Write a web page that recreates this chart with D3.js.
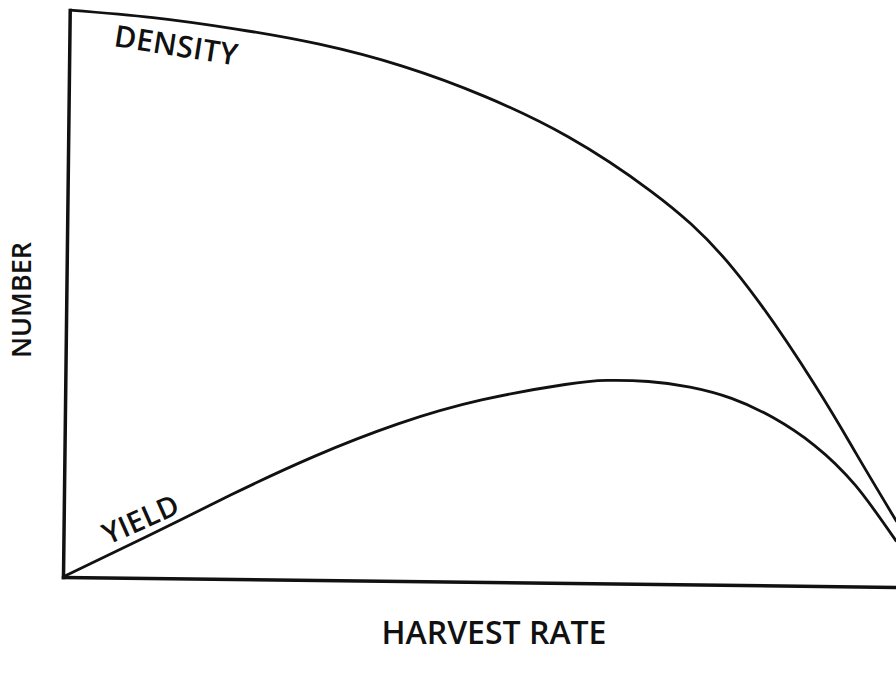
<!DOCTYPE html>
<html>
<head>
<meta charset="utf-8">
<script src="https://cdn.jsdelivr.net/npm/d3@7"></script>
<style>
  html, body { margin: 0; padding: 0; background: #fff; }
  svg { display: block; }
  text { font-family: "Open Sans", "DejaVu Sans", sans-serif; fill: #111; }
</style>
</head>
<body>
<svg id="chart" width="896" height="677"></svg>
<script>
// Harvest rate (0-100, relative) and curve values (0-100, relative number)
const densityRate  = [0, 10, 20, 30, 40, 50, 60, 70, 80, 90, 95, 100];
const densityValue = [100, 98.85, 97.0, 94.5, 90.8, 85.6, 78.7, 69.3, 55.8, 35.4, 23.5, 11.5];

const yieldRate  = [0, 10, 20, 30, 40, 50, 60, 65, 70, 75, 80, 85, 90, 95, 100];
const yieldValue = [0, 7.3, 14.8, 21.8, 27.7, 32.1, 35.0, 35.8, 35.7, 34.8, 32.9, 29.6, 24.8, 17.8, 8.0];

const seriesLabels = ["DENSITY", "YIELD"];
const xAxisLabel = "HARVEST RATE";
const yAxisLabel = "NUMBER";

const svg = d3.select("#chart");
const W = 833, H = 567;

const x = d3.scaleLinear().domain([0, 100]).range([0, W]);
const y = d3.scaleLinear().domain([0, 100]).range([0, -H]);

const g = svg.append("g").attr("transform", "translate(63,577) rotate(0.68)");

// axes (domain lines only, no ticks)
const xAxisScale = d3.scaleLinear().domain([0, 104]).range([0, x(104)]);
const xAxis = g.append("g").call(d3.axisBottom(xAxisScale).tickValues([]).tickSizeOuter(0));
const yAxis = g.append("g").call(d3.axisLeft(y).tickValues([]).tickSizeOuter(0));
[xAxis, yAxis].forEach(a => a.select(".domain")
  .attr("stroke", "#111").attr("stroke-width", 3.5).attr("stroke-linecap", "square"));

const line = d3.line().x(d => x(d[0])).y(d => y(d[1])).curve(d3.curveNatural);

const densityData = densityRate.map((r, i) => [r, densityValue[i]]);
const yieldData = yieldRate.map((r, i) => [r, yieldValue[i]]);

g.append("path").datum(densityData).attr("d", line)
  .attr("fill", "none").attr("stroke", "#111").attr("stroke-width", 2.8);
g.append("path").datum(yieldData).attr("d", line)
  .attr("fill", "none").attr("stroke", "#111").attr("stroke-width", 2.8);

// labels
svg.append("text").text(seriesLabels[0])
  .attr("transform", "translate(113,46) rotate(9)")
  .attr("font-size", 30).attr("font-weight", 600).attr("letter-spacing", 0.3);

svg.append("text").text(seriesLabels[1])
  .attr("transform", "translate(108,545) rotate(-24)")
  .attr("font-size", 29).attr("font-weight", 600).attr("letter-spacing", 0.3);

svg.append("text").text(xAxisLabel)
  .attr("x", 494).attr("y", 644).attr("text-anchor", "middle")
  .attr("font-size", 32).attr("font-weight", 600);

svg.append("text").text(yAxisLabel)
  .attr("transform", "translate(31,300) rotate(-90)")
  .attr("text-anchor", "middle").attr("font-size", 27).attr("font-weight", 600);
</script>
</body>
</html>
